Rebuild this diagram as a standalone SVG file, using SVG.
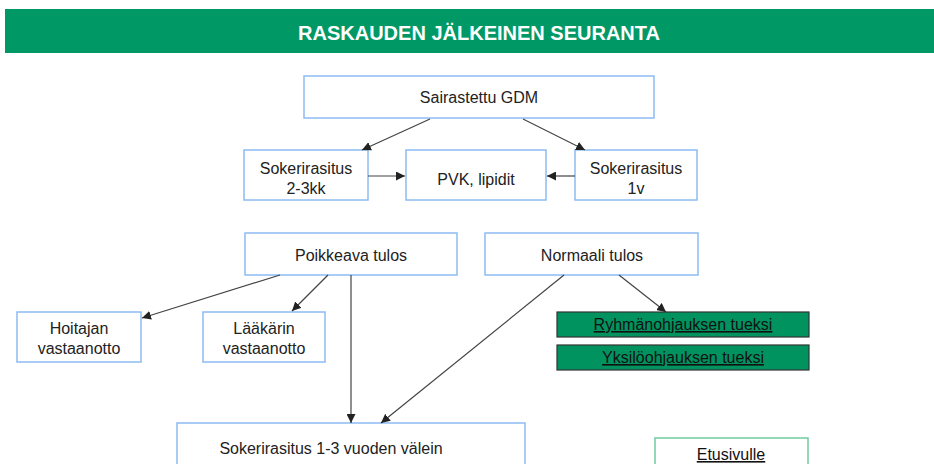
<svg xmlns="http://www.w3.org/2000/svg" width="934" height="464" viewBox="0 0 934 464">
  <defs>
    <marker id="arrow" viewBox="0 0 10 10" refX="10" refY="5" markerWidth="9" markerHeight="9" markerUnits="userSpaceOnUse" orient="auto">
      <path d="M0,0 L10,5 L0,10 Z" fill="#222"/>
    </marker>
    <style>
      .box { fill: #ffffff; stroke: #8cbcf2; stroke-width: 1.5; }
      .gbtn { fill: #00935f; stroke: #333333; stroke-width: 1.2; }
      .lbl { font-family: "Liberation Sans", Arial, sans-serif; font-size: 16px; fill: #222222; text-anchor: middle; }
      .link { text-decoration: underline; fill: #111111; }
      .conn { stroke: #444444; stroke-width: 1.2; fill: none; }
    </style>
  </defs>

  <!-- title bar -->
  <g id="header">
    <rect x="5" y="9" width="929" height="44" fill="#009966"/>
    <text x="479" y="40" font-family="Liberation Sans, Arial, sans-serif" font-size="20" font-weight="bold" fill="#ffffff" text-anchor="middle">RASKAUDEN JÄLKEINEN SEURANTA</text>
  </g>

  <g id="gdm">
    <rect class="box" x="304" y="76" width="350" height="42"/>
    <text class="lbl" x="479" y="103">Sairastettu GDM</text>
  </g>

  <g id="ogtt-3m">
    <rect class="box" x="244" y="150" width="124" height="50"/>
    <text class="lbl" x="306" y="174">Sokerirasitus</text>
    <text class="lbl" x="306" y="194">2-3kk</text>
  </g>

  <g id="pvk">
    <rect class="box" x="406" y="150" width="140" height="50"/>
    <text class="lbl" x="476" y="185">PVK, lipidit</text>
  </g>

  <g id="ogtt-1y">
    <rect class="box" x="575" y="150" width="122" height="50"/>
    <text class="lbl" x="636" y="174">Sokerirasitus</text>
    <text class="lbl" x="636" y="194">1v</text>
  </g>

  <g id="abnormal">
    <rect class="box" x="245" y="233" width="212" height="42"/>
    <text class="lbl" x="351" y="261">Poikkeava tulos</text>
  </g>

  <g id="normal">
    <rect class="box" x="485" y="233" width="213" height="42"/>
    <text class="lbl" x="592" y="261">Normaali tulos</text>
  </g>

  <g id="nurse">
    <rect class="box" x="17" y="312" width="124" height="50"/>
    <text class="lbl" x="79" y="334">Hoitajan</text>
    <text class="lbl" x="79" y="354">vastaanotto</text>
  </g>

  <g id="doctor">
    <rect class="box" x="203" y="312" width="122" height="50"/>
    <text class="lbl" x="264" y="334">Lääkärin</text>
    <text class="lbl" x="264" y="354">vastaanotto</text>
  </g>

  <g id="group-guidance">
    <rect class="gbtn" x="557" y="312" width="252" height="25"/>
    <text class="lbl link" x="683" y="330">Ryhmänohjauksen tueksi</text>
  </g>

  <g id="individual-guidance">
    <rect class="gbtn" x="557" y="345" width="252" height="25"/>
    <text class="lbl link" x="683" y="363">Yksilöohjauksen tueksi</text>
  </g>

  <g id="followup">
    <rect class="box" x="177" y="423" width="348" height="50"/>
    <text class="lbl" x="331" y="454">Sokerirasitus 1-3 vuoden välein</text>
  </g>

  <g id="home">
    <rect x="655" y="438" width="153" height="40" fill="#ffffff" stroke="#6fcc9f" stroke-width="1.5"/>
    <text class="lbl link" x="731" y="460">Etusivulle</text>
  </g>

  <!-- connectors -->
  <g id="connectors">
    <line class="conn" x1="430" y1="119" x2="362" y2="150" marker-end="url(#arrow)"/>
    <line class="conn" x1="523" y1="119" x2="585" y2="150" marker-end="url(#arrow)"/>
    <line class="conn" x1="368" y1="176" x2="405" y2="176" marker-end="url(#arrow)"/>
    <line class="conn" x1="575" y1="176" x2="547" y2="176" marker-end="url(#arrow)"/>
    <line class="conn" x1="280" y1="275" x2="142" y2="318" marker-end="url(#arrow)"/>
    <line class="conn" x1="328" y1="275" x2="292" y2="311" marker-end="url(#arrow)"/>
    <line class="conn" x1="351" y1="275" x2="351" y2="423" marker-end="url(#arrow)"/>
    <line class="conn" x1="564" y1="275" x2="381" y2="423" marker-end="url(#arrow)"/>
    <line class="conn" x1="619" y1="275" x2="666" y2="312" marker-end="url(#arrow)"/>
  </g>
</svg>
